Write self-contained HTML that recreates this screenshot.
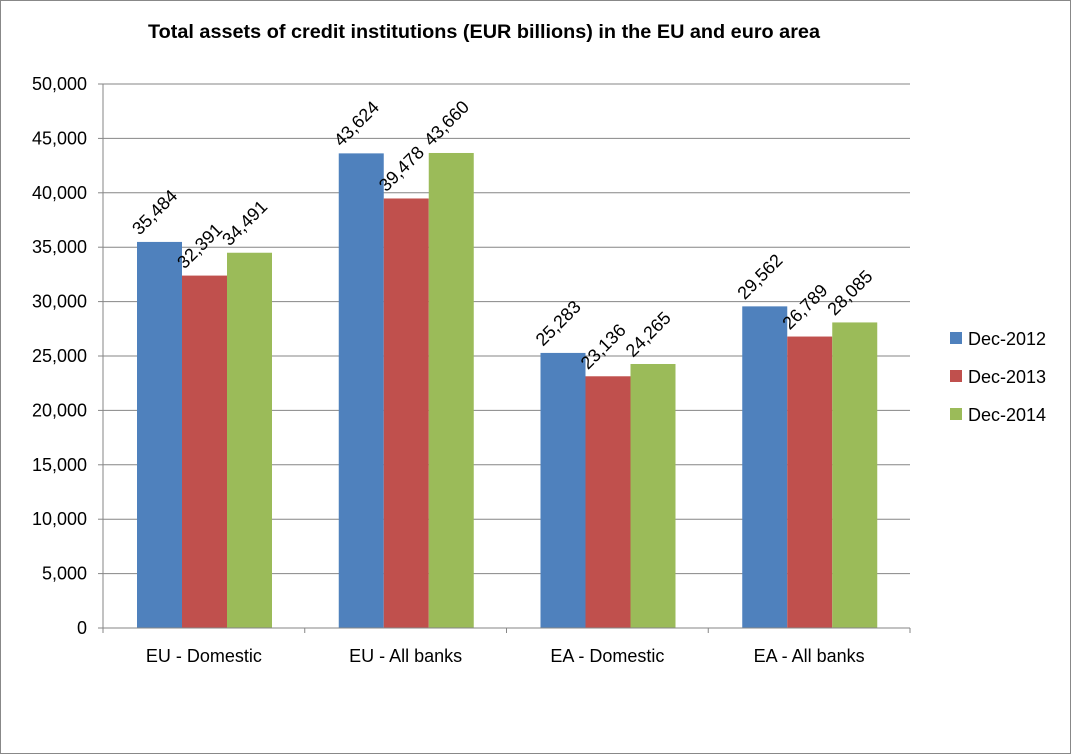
<!DOCTYPE html>
<html><head><meta charset="utf-8"><style>
html,body{margin:0;padding:0;background:#fff;}
svg{display:block;font-family:"Liberation Sans",Arial,sans-serif;}
</style></head><body>
<svg id="chart" width="1071" height="754" xmlns="http://www.w3.org/2000/svg">
<rect x="0.5" y="0.5" width="1070" height="753" fill="#fff" stroke="#888"/>
<text x="148" y="38" textLength="672" lengthAdjust="spacingAndGlyphs" font-size="19" font-weight="bold" fill="#000">Total assets of credit institutions (EUR billions) in the EU and euro area</text>
<g id="grid"></g><g id="bars"></g><g id="labels"></g><g id="axes"></g><g id="legend"></g>
</svg>
<script>
const categories = ["EU - Domestic","EU - All banks","EA - Domestic","EA - All banks"];
const seriesNames = ["Dec-2012","Dec-2013","Dec-2014"];
const dec2012 = [35484,43624,25283,29562];
const dec2013 = [32391,39478,23136,26789];
const dec2014 = [34491,43660,24265,28085];
const yTicks = [0,5000,10000,15000,20000,25000,30000,35000,40000,45000,50000];
const colors = ["#4f81bd","#c0504d","#9bbb59"];
const series = [dec2012,dec2013,dec2014];
const NS="http://www.w3.org/2000/svg";
const X0=103,X1=910,Y0=628,Y1=84,YMAX=50000;
const catW=(X1-X0)/categories.length;
const y=v=>Y0-(v/YMAX)*(Y0-Y1);
const barW=45, pad=34;
function mk(tag,attrs,parent){const e=document.createElementNS(NS,tag);for(const k in attrs)e.setAttribute(k,attrs[k]);parent.appendChild(e);return e;}
const fmt=v=>v.toLocaleString("en-US");
const grid=document.getElementById("grid"),bars=document.getElementById("bars"),labels=document.getElementById("labels"),axes=document.getElementById("axes"),legend=document.getElementById("legend");
yTicks.forEach(t=>{
  if(t>0){const l=mk("line",{x1:X0,x2:X1,y1:y(t),y2:y(t),stroke:"#868686","stroke-width":1},grid);
  
  }
  const tk=mk("line",{x1:X0-5,x2:X0,y1:y(t),y2:y(t),stroke:"#868686"},axes);
  
  
  const tx=mk("text",{x:X0-16,y:y(t)+6,"text-anchor":"end","font-size":18,fill:"#000"},axes);
  tx.textContent=fmt(t);
  
  
});
const ax=mk("line",{x1:X0,x2:X0,y1:Y1,y2:Y0,stroke:"#868686"},axes);


const xa=mk("line",{x1:X0,x2:X1,y1:Y0,y2:Y0,stroke:"#868686"},axes);


for(let i=0;i<=categories.length;i++){
  const t=mk("line",{x1:X0+i*catW,x2:X0+i*catW,y1:Y0,y2:Y0+5,stroke:"#868686"},axes);
  
  
}
categories.forEach((c,i)=>{
  const tx=mk("text",{x:X0+i*catW+catW/2,y:662,"text-anchor":"middle","font-size":18,fill:"#000"},axes);
  tx.textContent=c;
  
  
  series.forEach((s,j)=>{
    const bx=X0+i*catW+pad+j*barW, by=y(s[i]);
    const r=mk("rect",{x:bx,y:by,width:barW,height:Y0-by,fill:colors[j]},bars);
    
    
    const lx=bx+barW/2-20, ly=by-6;
    const lt=mk("text",{x:lx,y:ly,"font-size":18,fill:"#000",transform:`rotate(-45 ${lx} ${ly})`},labels);
    lt.textContent=fmt(s[i]);
    
    
  });
});
seriesNames.forEach((n,j)=>{
  const yy=339+j*38;
  const sw=mk("rect",{x:950,y:yy-7,width:12,height:12,fill:colors[j]},legend);
  
  
  const t=mk("text",{x:968,y:yy+6,"font-size":18,fill:"#000"},legend);
  t.textContent=n;
  
  
});
</script>
</body></html>
